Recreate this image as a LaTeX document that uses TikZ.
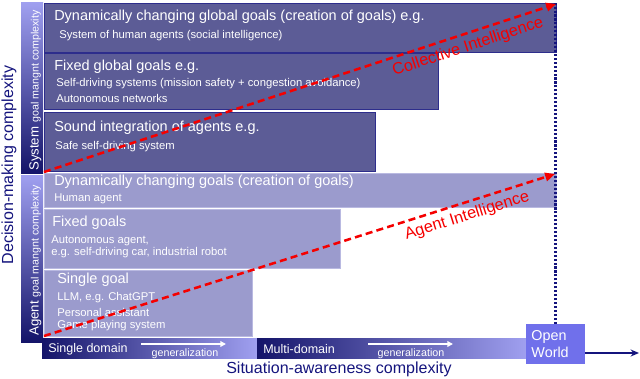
\documentclass[tikz,border=0pt]{standalone}
\usepackage{fontspec}
\setmainfont{Liberation Sans}
\usetikzlibrary{arrows.meta, positioning}
\definecolor{SystemFill}{RGB}{92, 92, 150}
\definecolor{SystemEdge}{RGB}{45, 45, 140}
\definecolor{AgentFill}{RGB}{155, 155, 205}
\definecolor{AgentEdge}{RGB}{185, 185, 225}
\definecolor{NavyDark}{RGB}{20, 20, 105}
\definecolor{BarMid}{RGB}{100, 100, 195}
\definecolor{BarLight}{RGB}{160, 160, 240}
\definecolor{OpenBlue}{RGB}{112, 112, 235}
\definecolor{AxisNavy}{RGB}{20, 20, 125}
\definecolor{IntelRed}{RGB}{245, 0, 0}

\tikzset{
  boxtitle/.style={anchor=west, inner sep=0pt, text=white, font=\fontsize{10.3}{12}\selectfont},
  boxtext/.style={anchor=west, inner sep=0pt, text=white, font=\fontsize{8}{9.6}\selectfont},
  intel/.style={IntelRed, line width=1.8pt, dash pattern=on 5pt off 3pt, -{Triangle[length=7pt, width=6pt]}},
  intellabel/.style={text=IntelRed, font=\fontsize{11.6}{14}\selectfont, sloped, below, pos=0.82},
}

\begin{document}
\begin{tikzpicture}[x=0.025cm, y=-0.025cm]
    \useasboundingbox (0,0) rectangle (640,378);

    % System level goals
    \draw[SystemEdge, fill=SystemFill] (44,3) rectangle (556,52);
    \draw[SystemEdge, fill=SystemFill] (44,53) rectangle (438,109);
    \draw[SystemEdge, fill=SystemFill] (44,112) rectangle (375,171);

    \node[boxtitle] (dyn-global) at (54,17) {Dynamically changing global goals (creation of goals) e.g.};
    \node[boxtext] (dyn-global-1) at (59,36) {System of human agents (social intelligence)};
    \node[boxtitle] (fix-global) at (54,67) {Fixed global goals e.g.};
    \node[boxtext] (fix-global-1) at (56,84) {Self-driving systems (mission safety + congestion avoidance)};
    \node[boxtext] (fix-global-2) at (56,98) {Autonomous networks};
    \node[boxtitle] (sound) at (54,128) {Sound integration of agents e.g.};
    \node[boxtext] (sound-1) at (55,147) {Safe self-driving system};

    % Agent level goals
    \draw[AgentEdge, fill=AgentFill] (44,173) rectangle (556,207);
    \draw[AgentEdge, fill=AgentFill] (44,209) rectangle (340,268);
    \draw[AgentEdge, fill=AgentFill] (44,270) rectangle (252,336);

    \node[boxtitle] (dyn-goals) at (54,182) {Dynamically changing goals (creation of goals)};
    \node[boxtext] (dyn-goals-1) at (54,199) {Human agent};
    \node[boxtitle] (fix-goals) at (52,223) {Fixed goals};
    \node[boxtext] (fix-goals-1) at (51,241) {Autonomous agent,};
    \node[boxtext] (fix-goals-2) at (51,253) {e.g. self-driving car, industrial robot};
    \node[boxtitle] (single) at (57,280) {Single goal};
    \node[boxtext] (single-1) at (57,298) {LLM, e.g. ChatGPT};
    \node[boxtext] (single-2) at (57,312) {Personal assistant};
    \node[boxtext] (single-3) at (57,326) {Game playing system};

    % Left bars
    \shade[top color=BarLight, middle color=BarMid, bottom color=NavyDark] (21,2) rectangle (43,173);
    \shade[top color=BarLight, middle color=BarMid, bottom color=NavyDark] (21,175) rectangle (43,342);
    \node[rotate=90, anchor=base west, inner sep=0pt, text=white] (sys-axis) at (38.5,171)
      {{\fontsize{9.4}{11}\selectfont System} {\fontsize{7.6}{9}\selectfont goal mangnt complexity}};
    \node[rotate=90, anchor=base west, inner sep=0pt, text=white] (agent-axis) at (38.5,336)
      {{\fontsize{9.4}{11}\selectfont Agent} {\fontsize{7.6}{9}\selectfont goal mangnt complexity}};
    \node[rotate=90, text=AxisNavy, font=\fontsize{11.4}{14}\selectfont] (decision) at (9,165) {Decision-making complexity};

    % Bottom bars
    \shade[left color=NavyDark, right color=BarLight] (42,338) rectangle (257,358);
    \shade[left color=NavyDark, right color=BarLight] (257,338) rectangle (527,358);
    \node[anchor=west, inner sep=0pt, text=white, font=\fontsize{8.9}{10}\selectfont] (single-dom) at (48,349) {Single domain};
    \node[anchor=west, inner sep=0pt, text=white, font=\fontsize{8.9}{10}\selectfont] (multi-dom) at (263,349) {Multi-domain};
    \node[inner sep=0pt, text=white, font=\fontsize{7.6}{9}\selectfont] (gen-1) at (185,354) {generalization};
    \node[inner sep=0pt, text=white, font=\fontsize{7.6}{9}\selectfont] (gen-2) at (411,354) {generalization};
    \draw[white, line width=1pt, -{Triangle[length=4pt, width=4pt]}] (141,344) -- (226,344);
    \draw[white, line width=1pt, -{Triangle[length=4pt, width=4pt]}] (368,344) -- (453,344);

    % Open world and axis
    \node[fill=OpenBlue, text=white, text width=1.2cm, inner xsep=4pt, minimum height=1cm,
      align=left, font=\fontsize{10.2}{12}\selectfont] (openworld) at (555.5,344) {Open\\World};
    \coordinate (top-corner) at (555.5,3);
    \coordinate (axis-end) at (639,353);
    \draw[AxisNavy, line width=1.7pt, dash pattern=on 1.5pt off 1.3pt] (openworld.north) -- (top-corner);
    \draw[AxisNavy, line width=1.2pt, -{Stealth[length=6pt, width=5pt]}] (openworld.east |- axis-end) -- (axis-end);
    \node[text=AxisNavy, font=\fontsize{11.4}{14}\selectfont] (situation) at (339,369) {Situation-awareness complexity};

    % Intelligence arrows
    \coordinate (ci-start) at (44,172);
    \coordinate (ci-end) at (556,4);
    \coordinate (ai-start) at (44,336);
    \coordinate (ai-end) at (555,174);
    \draw[intel] (ci-start) -- (ci-end) node[intellabel] (ci-label) {Collective Intelligence};
    \draw[intel] (ai-start) -- (ai-end) node[intellabel] (ai-label) {Agent Intelligence};
\end{tikzpicture}
\end{document}
